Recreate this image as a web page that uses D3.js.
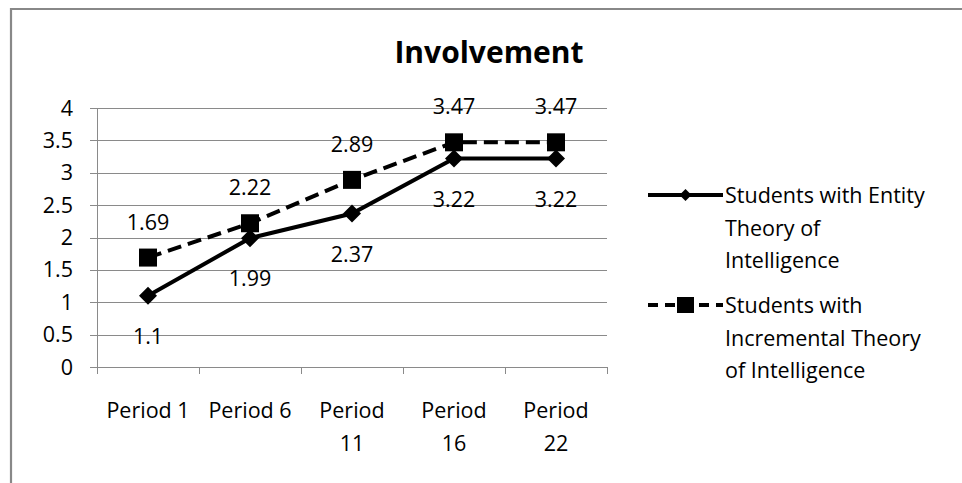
<!DOCTYPE html>
<html><head><meta charset="utf-8">
<script src="https://cdn.jsdelivr.net/npm/d3@7"></script>
<style>
body{margin:0;background:#fff;}
text{font-family:"Open Sans",sans-serif;fill:#000;}
</style></head>
<body><svg id="c" width="962" height="483"></svg>
<script>
const title = "Involvement";
const categories = [["Period 1"],["Period 6"],["Period","11"],["Period","16"],["Period","22"]];
const entity = [1.1, 1.99, 2.37, 3.22, 3.22];
const incremental = [1.69, 2.22, 2.89, 3.47, 3.47];
const yTicks = [0, 0.5, 1, 1.5, 2, 2.5, 3, 3.5, 4];
const legendEntity = ["Students with Entity","Theory of","Intelligence"];
const legendIncremental = ["Students with","Incremental Theory","of Intelligence"];

const svg = d3.select("#c");
const grid = "#8a8a8a";
const fs = 21.5;
// outer frame
svg.append("path").attr("d","M11,483 V9 H962").attr("fill","none").attr("stroke","#888").attr("stroke-width",2.2);

const x = d3.scaleBand().domain(d3.range(categories.length)).range([97,607]);
const y = d3.scaleLinear().domain([0,4]).range([367,108]);

// gridlines
svg.append("g").selectAll("line").data(yTicks).join("line")
  .attr("x1",90).attr("x2",607).attr("y1",d=>Math.round(y(d))+0.5).attr("y2",d=>Math.round(y(d))+0.5)
  .attr("stroke",grid).attr("stroke-width",1);
// y axis line
svg.append("line").attr("x1",97.5).attr("x2",97.5).attr("y1",108).attr("y2",367.5).attr("stroke",grid);
// x ticks
svg.append("g").selectAll("line").data(d3.range(categories.length+1)).join("line")
  .attr("x1",i=>Math.round(97+i*x.step())+0.5).attr("x2",i=>Math.round(97+i*x.step())+0.5)
  .attr("y1",367).attr("y2",374).attr("stroke",grid);

// y labels
svg.append("g").selectAll("text").data(yTicks).join("text")
  .attr("x",73).attr("y",d=>y(d)+7.5).attr("text-anchor","end").attr("font-size",fs)
  .text(d=>d);
// x labels
const xl = svg.append("g").selectAll("text").data(categories).join("text")
  .attr("text-anchor","middle").attr("font-size",fs);
xl.each(function(lines,i){
  d3.select(this).selectAll("tspan").data(lines).join("tspan")
    .attr("x",x(i)+x.bandwidth()/2).attr("y",(d,j)=>418+j*33).text(d=>d);
});

// title
svg.append("text").attr("x",489).attr("y",63).attr("text-anchor","middle")
  .attr("font-size",30).attr("font-weight","bold").text(title);

const cx = i=>x(i)+x.bandwidth()/2;
const line = d3.line().x((d,i)=>cx(i)).y(d=>y(d));
svg.append("path").attr("d",line(entity)).attr("fill","none").attr("stroke","#000").attr("stroke-width",4);
svg.append("path").attr("d",line(incremental)).attr("fill","none").attr("stroke","#000").attr("stroke-width",4).attr("stroke-dasharray","14,7");

const diamond = "M0,-9L9,0L0,9L-9,0Z";
svg.append("g").selectAll("path").data(entity).join("path")
  .attr("d",diamond).attr("transform",(d,i)=>`translate(${cx(i)},${y(d)})`).attr("fill","#000");
svg.append("g").selectAll("rect").data(incremental).join("rect")
  .attr("x",(d,i)=>cx(i)-9).attr("y",d=>y(d)-9).attr("width",18).attr("height",18).attr("fill","#000");

// data labels
svg.append("g").selectAll("text").data(entity).join("text")
  .attr("x",(d,i)=>cx(i)).attr("y",d=>y(d)+48).attr("text-anchor","middle").attr("font-size",fs).text(d=>d);
svg.append("g").selectAll("text").data(incremental).join("text")
  .attr("x",(d,i)=>cx(i)).attr("y",d=>y(d)-28).attr("text-anchor","middle").attr("font-size",fs).text(d=>d);

// legend
function legend(lines, y0, dashed, marker){
  const g = svg.append("g");
  g.append("line").attr("x1",648).attr("x2",723).attr("y1",y0).attr("y2",y0)
    .attr("stroke","#000").attr("stroke-width",4).attr("stroke-dasharray",dashed?"10,7":null);
  if(marker==="d") g.append("path").attr("d","M0,-6L6,0L0,6L-6,0Z").attr("transform",`translate(685.5,${y0})`);
  else g.append("rect").attr("x",677).attr("y",y0-8).attr("width",17).attr("height",16);
  g.append("text").attr("font-size",fs).selectAll("tspan").data(lines).join("tspan")
    .attr("x",725).attr("y",(d,j)=>y0+8+j*32.5).text(d=>d);
}
legend(legendEntity,195,false,"d");
legend(legendIncremental,305,true,"s");
</script></body></html>
